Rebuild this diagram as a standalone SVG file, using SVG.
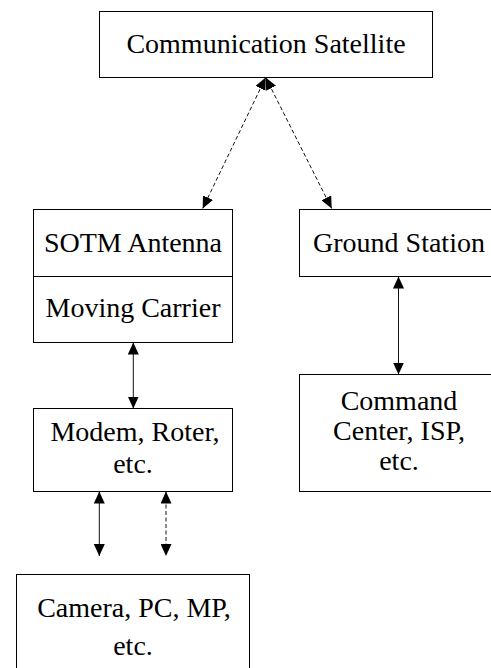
<svg xmlns="http://www.w3.org/2000/svg" width="491" height="668" viewBox="0 0 491 668">
<defs>
<style>
.box{fill:#fff;stroke:#000;stroke-width:1}
.t{font-family:"Liberation Serif","Times New Roman",serif;font-size:28px;fill:#000;text-anchor:middle}
.c{fill:none;stroke:#111;stroke-width:1}
.d{stroke-dasharray:4,2.5}
</style>
<marker id="ah" markerUnits="userSpaceOnUse" markerWidth="12" markerHeight="11" refX="12" refY="5.5" orient="auto-start-reverse" viewBox="0 0 12 11">
<path d="M0,0 L12,5.5 L0,11 z" fill="#000"/>
</marker>
</defs>
<rect width="491" height="668" fill="#fff"/>
<g id="satellite">
<rect class="box" x="99.5" y="11.5" width="333" height="66"/>
<text class="t" x="266" y="53">Communication Satellite</text>
</g>
<g id="sotm">
<rect class="box" x="33.5" y="209.5" width="199" height="133"/>
<line x1="33.5" y1="276.5" x2="232.5" y2="276.5" stroke="#000"/>
<text class="t" x="133" y="252">SOTM Antenna</text>
<text class="t" x="133" y="317">Moving Carrier</text>
</g>
<g id="ground">
<rect class="box" x="299.5" y="209.5" width="199" height="67"/>
<text class="t" x="399" y="252">Ground Station</text>
</g>
<g id="modem">
<rect class="box" x="33.5" y="408.5" width="199" height="83"/>
<text class="t" x="135" y="441">Modem, Roter,</text>
<text class="t" x="133" y="473">etc.</text>
</g>
<g id="command">
<rect class="box" x="299.5" y="374.5" width="199" height="117"/>
<text class="t" x="399" y="410">Command</text>
<text class="t" x="399" y="440">Center, ISP,</text>
<text class="t" x="399" y="470">etc.</text>
</g>
<g id="camera">
<rect class="box" x="16.5" y="574.5" width="233" height="100"/>
<text class="t" x="134" y="617">Camera, PC, MP,</text>
<text class="t" x="133" y="655">etc.</text>
</g>
<g id="connectors">
<line class="c d" x1="265.7" y1="77.5" x2="202.7" y2="208.5" marker-start="url(#ah)" marker-end="url(#ah)"/>
<line class="c d" x1="265.7" y1="77.5" x2="331.7" y2="208.5" marker-start="url(#ah)" marker-end="url(#ah)"/>
<line class="c" x1="133.3" y1="342.5" x2="133.3" y2="408.5" marker-start="url(#ah)" marker-end="url(#ah)"/>
<line class="c" x1="398.5" y1="276.5" x2="398.5" y2="374.5" marker-start="url(#ah)" marker-end="url(#ah)"/>
<line class="c" x1="99.3" y1="491.5" x2="99.3" y2="556" marker-start="url(#ah)" marker-end="url(#ah)"/>
<line class="c d" x1="166" y1="491.5" x2="166" y2="556" marker-start="url(#ah)" marker-end="url(#ah)"/>
</g>
</svg>
